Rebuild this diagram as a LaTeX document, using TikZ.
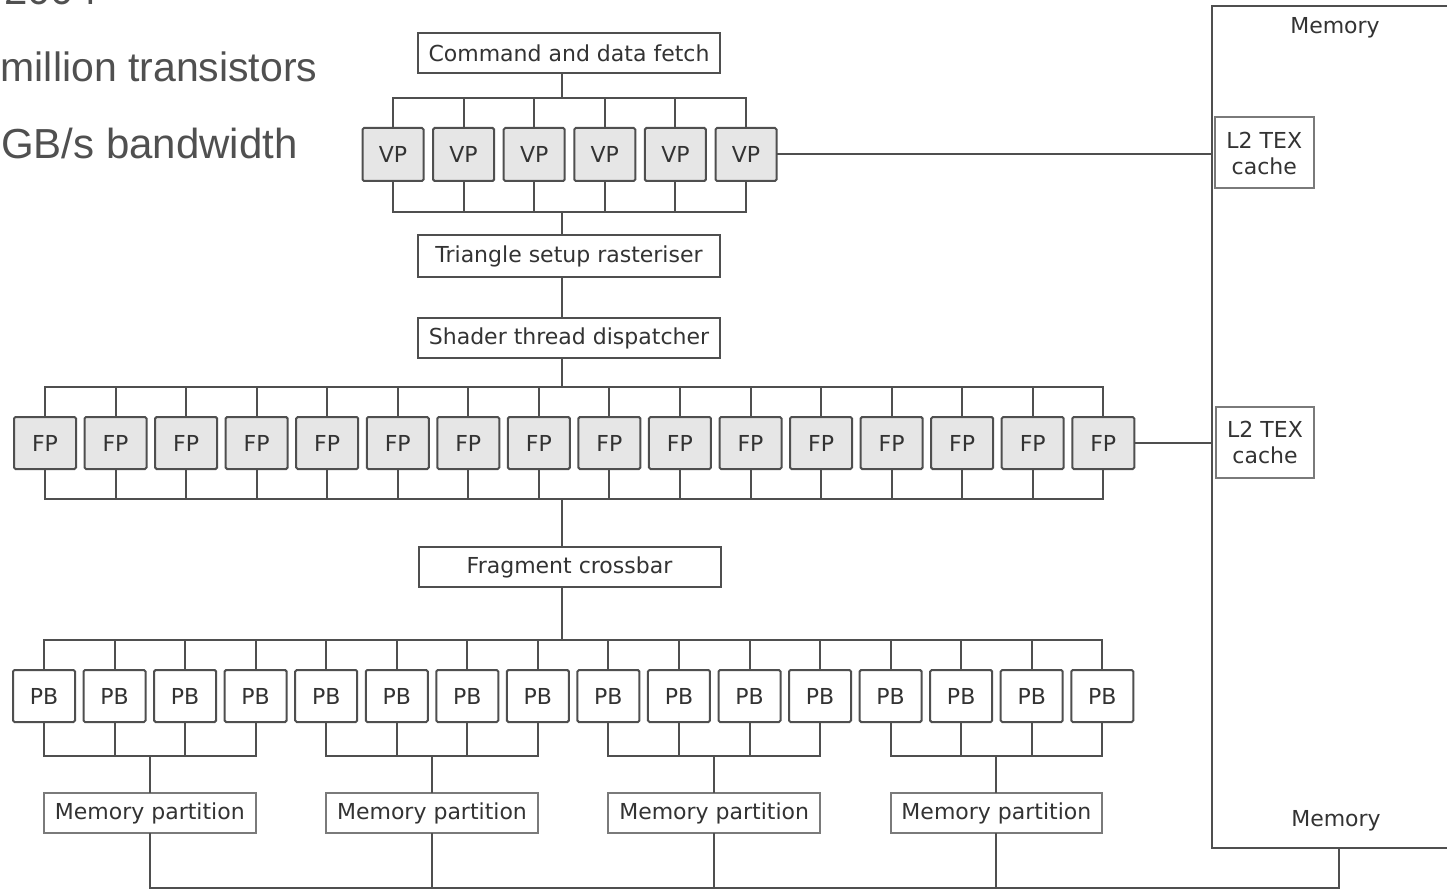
\documentclass[tikz,border=0pt]{standalone}
\usepackage{fontspec}
\newfontfamily\diagfont{DejaVu Sans}
\newfontfamily\slidefont{Liberation Sans}
\definecolor{wirecol}{HTML}{4F4F4F}
\definecolor{lightwire}{HTML}{7A7A7A}
\definecolor{unitfill}{HTML}{E6E6E6}
\definecolor{ink}{HTML}{333333}
\definecolor{slideink}{HTML}{505050}
\begin{document}
\begin{tikzpicture}[x=1pt,y=-1pt,
  link/.style={draw=wirecol,line width=2pt},
  lbl/.style={font=\diagfont\fontsize{22}{26}\selectfont,text=ink,align=center},
  unit/.style={lbl,draw=wirecol,line width=2pt,rounded corners=1.5pt,fill=unitfill,
    minimum width=62pt,minimum height=52pt,inner sep=0pt,outer sep=0pt},
  pbunit/.style={unit,fill=white},
  stage/.style={lbl,draw=wirecol,line width=2pt,fill=white,minimum width=302pt,
    minimum height=40pt,inner sep=0pt,outer sep=0pt},
  part/.style={lbl,draw=lightwire,line width=2pt,fill=white,minimum height=40pt,
    inner sep=0pt,outer sep=0pt},
  cache/.style={lbl,draw=lightwire,line width=2pt,fill=white,minimum width=98.5pt,
    minimum height=71pt,inner sep=0pt,outer sep=0pt},
  slidetext/.style={font=\slidefont\fontsize{42}{48}\selectfont,text=slideink,
    anchor=base west,inner sep=0pt}]
\useasboundingbox (0,0) rectangle (1447,890);

% slide bullet text
\node[slidetext] (year) at (4,5) {2004};
\node[slidetext,font=\slidefont\fontsize{41}{48}\selectfont] (trans) at (0.5,82) {million transistors};
\node[slidetext] (bw) at (1,159) {GB/s bandwidth};

% bus levels and vertical spine
\coordinate (vptop) at (0,98);
\coordinate (vpbot) at (0,212);
\coordinate (fptop) at (0,387);
\coordinate (fpbot) at (0,499);
\coordinate (pbtop) at (0,640);
\coordinate (pbgrp) at (0,756);
\coordinate (floor) at (0,888);
\coordinate (spine) at (562,0);
\coordinate (memtap) at (1339,0);

% memory block at the right
\node[draw=wirecol,line width=2pt,minimum width=248.3pt,minimum height=842pt,
  inner sep=0pt,outer sep=0pt] (mem) at (1335.85,427) {};
\node[lbl] (memtop) at (1335,28) {Memory};
\node[lbl] (membot) at (1336,821) {Memory};
\node[cache] (l2a) at (1264.25,153) {L2 TEX\\cache};
\node[cache] (l2b) at (1265,442) {L2 TEX\\cache};

% pipeline stages
\node[stage] (cmd) at (569,53) {Command and data fetch};
\node[stage,minimum height=42pt] (tri) at (569,256) {Triangle setup rasteriser};
\node[stage] (shd) at (569,338) {Shader thread dispatcher};
\node[stage] (frag) at (569.5,567) {Fragment crossbar};

% vertex processors
\foreach \i in {1,...,6}
  \node[unit,minimum width=61pt,minimum height=53pt] (vp\i) at ({393+70.6*(\i-1)},154.5) {VP};
% fragment processors
\foreach \i in {1,...,16}
  \node[unit] (fp\i) at ({45+70.55*(\i-1)},443) {FP};
% pixel blend units
\foreach \i in {1,...,16}
  \node[pbunit] (pb\i) at ({44+70.55*(\i-1)},696) {PB};
% memory partitions
\foreach \k in {1,...,4}
  \node[part,minimum width=211.65pt] (mp\k) at ({149.8+282.2*(\k-1)},813) {Memory partition};

% vertex processor buses
\draw[link] (vp1.north) -- (vp1.north |- vptop) -- (vp6.north |- vptop) -- (vp6.north);
\draw[link] (vp1.south) -- (vp1.south |- vpbot) -- (vp6.south |- vpbot) -- (vp6.south);
\foreach \i in {2,...,5} {
  \draw[link] (vp\i.north) -- (vp\i.north |- vptop);
  \draw[link] (vp\i.south) -- (vp\i.south |- vpbot);
}
\draw[link] (cmd.south -| spine) -- (spine |- vptop);
\draw[link] (spine |- vpbot) -- (tri.north -| spine);
\draw[link] (tri.south -| spine) -- (shd.north -| spine);
\draw[link] (vp6.east) -- (vp6.east -| mem.west);

% fragment processor buses
\draw[link] (fp1.north) -- (fp1.north |- fptop) -- (fp16.north |- fptop) -- (fp16.north);
\draw[link] (fp1.south) -- (fp1.south |- fpbot) -- (fp16.south |- fpbot) -- (fp16.south);
\foreach \i in {2,...,15} {
  \draw[link] (fp\i.north) -- (fp\i.north |- fptop);
  \draw[link] (fp\i.south) -- (fp\i.south |- fpbot);
}
\draw[link] (shd.south -| spine) -- (spine |- fptop);
\draw[link] (spine |- fpbot) -- (frag.north -| spine);
\draw[link] (fp16.east) -- (fp16.east -| mem.west);

% crossbar to pixel blend units
\draw[link] (pb1.north) -- (pb1.north |- pbtop) -- (pb16.north |- pbtop) -- (pb16.north);
\foreach \i in {2,...,15}
  \draw[link] (pb\i.north) -- (pb\i.north |- pbtop);
\draw[link] (frag.south -| spine) -- (spine |- pbtop);

% pixel blend groups into memory partitions
\foreach \k/\a/\b/\c/\d in {1/1/2/3/4,2/5/6/7/8,3/9/10/11/12,4/13/14/15/16} {
  \draw[link] (pb\a.south) -- (pb\a.south |- pbgrp) -- (pb\d.south |- pbgrp) -- (pb\d.south);
  \draw[link] (pb\b.south) -- (pb\b.south |- pbgrp);
  \draw[link] (pb\c.south) -- (pb\c.south |- pbgrp);
  \draw[link] (mp\k.north |- pbgrp) -- (mp\k.north);
}

% partitions down to the memory
\draw[link] (mp1.south) -- (mp1.south |- floor) -- (memtap |- floor) -- (memtap |- mem.south);
\foreach \k in {2,3,4}
  \draw[link] (mp\k.south) -- (mp\k.south |- floor);
\end{tikzpicture}
\end{document}
